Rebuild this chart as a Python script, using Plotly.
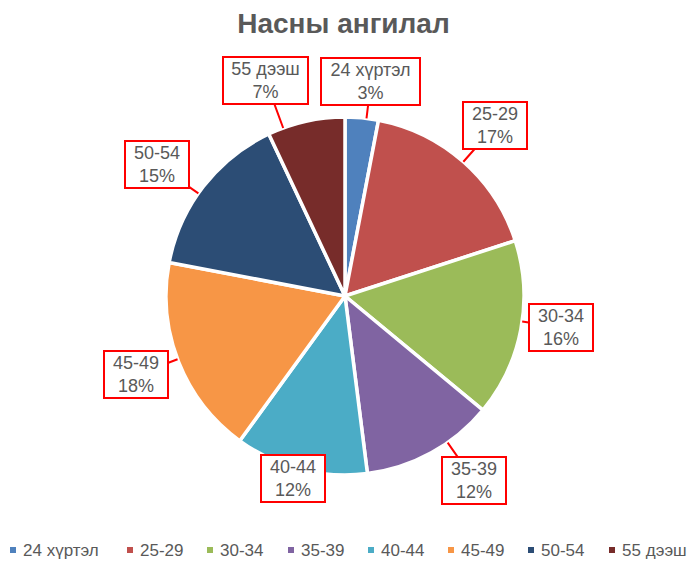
import math
import plotly.graph_objects as go

# ---- data ----
categories = ["24 хүртэл", "25-29", "30-34", "35-39", "40-44", "45-49", "50-54", "55 дээш"]
shares = [3, 17, 16, 12, 12, 18, 15, 7]
colors = ["#4F81BD", "#C0504D", "#9BBB59", "#8064A2", "#4BACC6", "#F79646", "#2C4D75", "#772C2A"]
title_text = "Насны ангилал"

# ---- layout params (styling / label placement) ----
W, H = 687, 561
CX, CY, R = 345, 296, 179          # pie center & radius in px
label_dist = [216, 227, 218, 225, 190, 223, 229, 230]
label_angle_shift = [1.5, 0, -2.6, -6.2, 1.6, 0.9, -2.8, -7.6]
label_box_w = [95, 60, 60, 60, 60, 60, 60, 81]
has_pointer = [True, True, True, True, False, True, True, True]
legend_x = [13, 130, 210, 291, 371, 451, 531, 612]
LEGEND_Y = 550
GRAY = "#595959"
FONT = "Liberation Sans, Arial, sans-serif"

fig = go.Figure(go.Pie(
    labels=categories,
    values=shares,
    sort=False,
    direction="clockwise",
    rotation=0,
    marker=dict(colors=colors, line=dict(color="white", width=3.5)),
    textinfo="none",
    hoverinfo="label+percent",
    showlegend=False,
    domain=dict(x=[(CX - R) / W, (CX + R) / W], y=[1 - (CY + R) / H, 1 - (CY - R) / H]),
))

total = sum(shares)
cum = 0.0
annotations = []
shapes = []
for i, (cat, v) in enumerate(zip(categories, shares)):
    mid = (cum + v / 2) / total * 360.0
    cum += v
    ang = math.radians(mid + label_angle_shift[i])
    bx = CX + label_dist[i] * math.sin(ang)
    by = CY - label_dist[i] * math.cos(ang)
    tx = CX + R * math.sin(ang)
    ty = CY - R * math.cos(ang)
    pct = round(v / total * 100)
    text = f"{cat}<br>{pct}%"
    common = dict(
        text=text, font=dict(family=FONT, size=18, color=GRAY),
        bgcolor="white", bordercolor="#FF0000", borderwidth=2, borderpad=1,
        align="center", width=label_box_w[i], xref="paper", yref="paper",
    )
    if has_pointer[i]:
        annotations.append(dict(
            x=tx / W, y=1 - ty / H,
            ax=bx - tx, ay=by - ty, axref="pixel", ayref="pixel",
            showarrow=True, arrowhead=0, arrowwidth=2, arrowcolor="#FF0000",
            standoff=0, startstandoff=0, **common,
        ))
    else:
        annotations.append(dict(
            x=bx / W, y=1 - by / H, xanchor="center", yanchor="middle",
            showarrow=False, **common,
        ))

    # custom legend entry: small square + label
    lx = legend_x[i]
    shapes.append(dict(
        type="rect", xref="paper", yref="paper",
        x0=(lx - 3) / W, x1=(lx + 3) / W,
        y0=1 - (LEGEND_Y + 3) / H, y1=1 - (LEGEND_Y - 3) / H,
        fillcolor=colors[i], line=dict(width=0),
    ))
    annotations.append(dict(
        x=(lx + 8) / W, y=1 - LEGEND_Y / H, xref="paper", yref="paper",
        xanchor="left", yanchor="middle", showarrow=False,
        text=cat, font=dict(family=FONT, size=17, color=GRAY),
    ))

fig.update_layout(
    width=W, height=H,
    margin=dict(l=0, r=0, t=0, b=0),
    paper_bgcolor="white",
    plot_bgcolor="white",
    showlegend=False,
    title=dict(text=f"<b>{title_text}</b>", x=0.5, xanchor="center", y=1 - 23 / H, yanchor="middle",
               font=dict(family=FONT, size=28, color=GRAY)),
    annotations=annotations,
    shapes=shapes,
)

fig.write_html("out.html", config={"displayModeBar": False},
               post_script="document.body.style.margin='0';")
